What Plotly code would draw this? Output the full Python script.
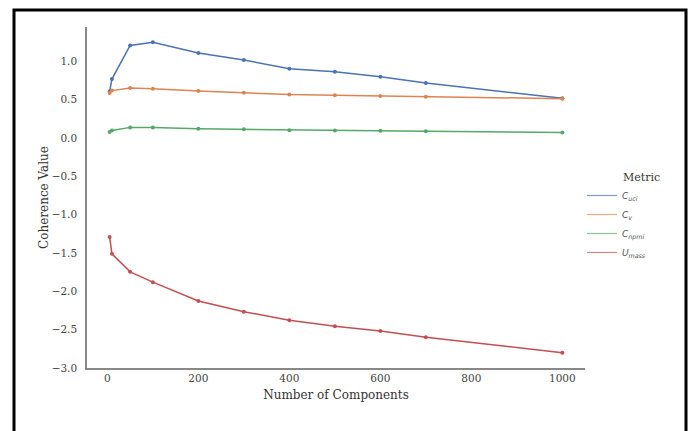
import plotly.graph_objects as go

components = [5, 10, 50, 100, 200, 300, 400, 500, 600, 700, 1000]
c_uci = [0.61, 0.77, 1.21, 1.25, 1.11, 1.02, 0.905, 0.865, 0.80, 0.72, 0.52]
c_v = [0.59, 0.62, 0.655, 0.645, 0.615, 0.592, 0.568, 0.558, 0.549, 0.54, 0.515]
c_npmi = [0.08, 0.10, 0.14, 0.14, 0.122, 0.115, 0.102, 0.10, 0.096, 0.089, 0.072]
u_mass = [-1.29, -1.51, -1.745, -1.88, -2.125, -2.265, -2.378, -2.455, -2.516, -2.598, -2.80]

series_names = ["<i>C</i><sub><i>uci</i></sub>", "<i>C</i><sub><i>v</i></sub>",
                "<i>C</i><sub><i>npmi</i></sub>", "<i>U</i><sub><i>mass</i></sub>"]
series_values = [c_uci, c_v, c_npmi, u_mass]
colors = ["#4C72B0", "#DD8452", "#55A868", "#C44E52"]

x_ticks = [0, 200, 400, 600, 800, 1000]
y_ticks = [-3.0, -2.5, -2.0, -1.5, -1.0, -0.5, 0.0, 0.5, 1.0]

fig = go.Figure()
for name, vals, col in zip(series_names, series_values, colors):
    fig.add_trace(go.Scatter(
        x=components, y=vals, name=name, mode="lines+markers",
        line=dict(color=col, width=1.5),
        marker=dict(color=col, size=4),
        showlegend=False,
    ))
# legend entries (line only, as in the reference)
for name, col in zip(series_names, colors):
    fig.add_trace(go.Scatter(
        x=[None], y=[None], name=name, mode="lines",
        line=dict(color=col, width=1.2), opacity=0.7,
    ))

W, H = 691, 431
L, R, T, B = 87, 106, 27, 63
pw, ph = W - L - R, H - T - B

def px(x):
    return (x - L) / pw

def py(y):
    return (H - B - y) / ph

serif = "DejaVu Serif"
fig.update_layout(
    width=W, height=H,
    margin=dict(l=L, r=R, t=T, b=B, pad=0),
    paper_bgcolor="white", plot_bgcolor="white",
    font=dict(family=serif, size=11, color="#333333"),
    showlegend=True,
    legend=dict(
        x=px(582), y=py(181), xanchor="left", yanchor="top",
        font=dict(family="DejaVu Sans", size=9, color="#555555"),
        bgcolor="rgba(0,0,0,0)", tracegroupgap=0,
        itemwidth=30,
    ),
    xaxis=dict(
        range=[-44.75, 1049.75], tickvals=x_ticks,
        ticktext=[str(v) for v in x_ticks],
        showline=True, linecolor="#888888", linewidth=1.5,
        showgrid=False, zeroline=False, ticks="",
        tickfont=dict(family=serif, size=10.5, color="#444444"),
        title=dict(text="Number of Components", standoff=7,
                   font=dict(family=serif, size=12, color="#333333")),
    ),
    yaxis=dict(
        range=[-3.0, 1.45], tickvals=y_ticks,
        ticktext=[f"{v:.1f}".replace("-", "\u2212") for v in y_ticks],
        showline=True, linecolor="#888888", linewidth=1.5,
        showgrid=False, zeroline=False, ticks="",
        ticklabelstandoff=6,
        tickfont=dict(family=serif, size=10.5, color="#444444"),
        title=dict(text="Coherence Value", standoff=0,
                   font=dict(family=serif, size=12, color="#333333")),
    ),
)

fig.add_annotation(text="Metric", xref="paper", yref="paper",
                   x=px(621), y=py(177), xanchor="left", yanchor="middle",
                   showarrow=False,
                   font=dict(family=serif, size=11, color="#333333"))

# black frame around the figure (open at bottom)
frame_left, frame_right, frame_top, frame_bottom = 14, 686, 10, 440
fig.add_shape(type="rect", xref="paper", yref="paper",
              x0=px(frame_left), x1=px(frame_right),
              y0=py(frame_bottom), y1=py(frame_top),
              line=dict(color="black", width=3), fillcolor="rgba(0,0,0,0)",
              layer="above")

fig.write_html("out.html")
